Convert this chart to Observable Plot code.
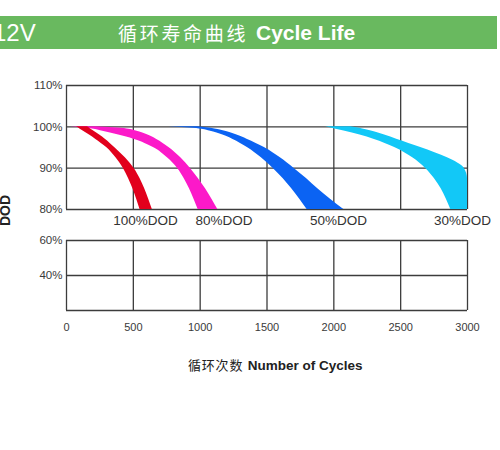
<!DOCTYPE html>
<html>
<head>
<meta charset="utf-8">
<script src="https://cdn.jsdelivr.net/npm/d3@7"></script>
<script src="https://cdn.jsdelivr.net/npm/@observablehq/plot@0.6"></script>
<style>
  html, body { margin: 0; padding: 0; background: #fff; }
  body { position: relative; width: 500px; height: 450px; overflow: hidden; font-family: "Liberation Sans", Arial, sans-serif; }
  #hdr { position: absolute; left: 0; top: 16px; width: 497px; height: 33px; background: #69b95f; color: #fff; overflow: hidden; }
  #hdr span { position: absolute; top: 0; line-height: 33px; white-space: nowrap; }
  #top { position: absolute; left: 0; top: 49px; }
  #bottom { position: absolute; left: 0; top: 229px; }
  #xt { position: absolute; top: 356px; left: 188px; white-space: nowrap; color: #222; line-height: 18px; }
</style>
</head>
<body>
<div id="hdr">
  <span style="left:-7px;font-size:24px;font-weight:300;">12V</span>
  <span style="left:118px;font-family:'Noto Sans CJK SC';font-size:19px;letter-spacing:2.7px;">循环寿命曲线</span>
  <span style="left:256px;font-size:21px;font-weight:bold;">Cycle Life</span>
</div>
<div id="top"></div>
<div id="bottom"></div>
<div id="xt"><span style="font-family:'Noto Sans CJK SC';font-size:13px;letter-spacing:0.8px;">循环次数</span> <span style="font-size:13.5px;font-weight:bold;">Number of Cycles</span></div>
<script>
// ---- data ----
const xTicks = [0, 500, 1000, 1500, 2000, 2500, 3000];
const yTicksTop = [80, 90, 100, 110];
const yTicksBottom = [20, 40, 60];
const yLabelsBottom = [40, 60];
const bands = ["100%DOD", "80%DOD", "50%DOD", "30%DOD"];
const bandColors = ["#e2001c", "#fc19c9", "#0b63f3", "#12c8f7"];
// capacity levels (%) and the cycle counts of each band's inner / outer edge at that level
const levels = [100, 99.5, 99, 98, 97, 95, 92.5, 90, 87.5, 85, 82.5, 80];
const red_lo = [75, 100, 124, 172, 217, 300, 370, 425, 464, 497, 525, 550];
const red_hi = [157, 180, 203, 248, 290, 360, 440, 505, 550, 585, 615, 642];
const mag_lo = [30, 193, 263, 390, 503, 650, 755, 830, 880, 920, 954, 985];
const mag_hi = [220, 453, 521, 609, 672, 766, 855, 926, 986, 1040, 1088, 1132];
const blu_lo = [765, 995, 1070, 1170, 1242, 1353, 1458, 1545, 1620, 1685, 1745, 1800];
const blu_hi = [978, 1110, 1180, 1275, 1350, 1480, 1600, 1701, 1795, 1880, 1975, 2075];
const cya_lo = [1938, 2008, 2076, 2196, 2298, 2455, 2590, 2685, 2752, 2803, 2842, 2875];
const cya_hi = [2125, 2215, 2280, 2380, 2470, 2650, 2850, 2975, 3000, 3000, 3000, 3000];
const labelCycles = [591, 1178, 2035, 2963];

const los = [red_lo, mag_lo, blu_lo, cya_lo];
const his = [red_hi, mag_hi, blu_hi, cya_hi];
const drawOrder = [1, 0, 2, 3];
const rows = drawOrder.flatMap(i => levels.map((y, j) => ({band: bands[i], y, x1: los[i][j], x2: his[i][j]})));
const labels = bands.map((b, i) => ({band: b, x: labelCycles[i]}));

const gridStyle = {stroke: "#3c3c3c", strokeWidth: 1.3};
const baseStyle = {fontFamily: "Liberation Sans, Arial, sans-serif", fontSize: "11.5px", color: "#3a3a3a", background: "transparent", overflow: "visible"};
const xOpts = {domain: [0, 3000], ticks: xTicks, tickSize: 0, tickPadding: 13, tickFormat: d => String(d), label: null};

const topSvg = Plot.plot({
  width: 500, height: 180,
  marginLeft: 66, marginRight: 33, marginTop: 36, marginBottom: 20,
  style: baseStyle,
  x: {...xOpts, axis: null},
  y: {domain: [80, 110], ticks: yTicksTop, tickSize: 0, tickPadding: 4, tickFormat: d => d + "%", label: null},
  color: {domain: bands, range: bandColors},
  marks: [
    Plot.ruleY(yTicksTop, gridStyle),
    Plot.ruleX(xTicks, {y1: 80, y2: 110, ...gridStyle}),
    Plot.areaX(rows, {y: "y", x1: "x1", x2: "x2", z: "band", fill: "band", curve: "monotone-y", clip: true}),
    Plot.text(labels, {x: "x", y: () => 80, text: "band", dy: 11, lineAnchor: "middle", fontSize: 13.5, fill: "#333", ariaLabel: "band-labels"}),
    Plot.text(["DOD"], {x: () => 0, y: () => 80, text: d => d, dx: -57, dy: 1, rotate: -90, lineAnchor: "bottom", fontSize: 14, fontWeight: "bold", fill: "#222"})
  ]
});
d3.select(topSvg).selectAll('g[aria-label="band-labels"] text').attr("letter-spacing", "0.6px");

const bottomSvg = Plot.plot({
  width: 500, height: 110,
  marginLeft: 66, marginRight: 33, marginTop: 11, marginBottom: 29,
  style: baseStyle,
  x: xOpts,
  y: {domain: [20, 60], ticks: yLabelsBottom, tickSize: 0, tickPadding: 4, tickFormat: d => d + "%", label: null},
  marks: [
    Plot.ruleY(yTicksBottom, gridStyle),
    Plot.ruleX(xTicks, {y1: 20, y2: 60, ...gridStyle})
  ]
});
d3.select(bottomSvg).selectAll('g[aria-label="x-axis tick label"]').attr("font-size", "11px");

document.getElementById("top").appendChild(topSvg);
document.getElementById("bottom").appendChild(bottomSvg);
</script>
</body>
</html>
